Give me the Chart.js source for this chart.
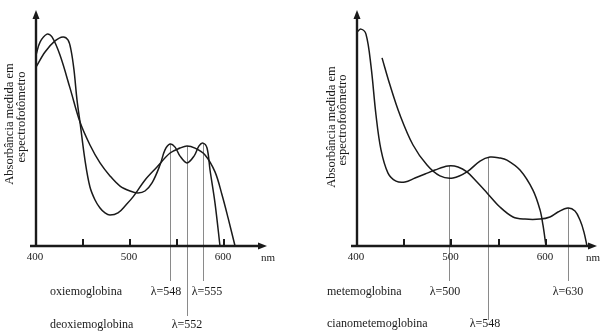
<!DOCTYPE html>
<html>
<head>
<meta charset="utf-8">
<script src="https://cdn.jsdelivr.net/npm/chart.js@4"></script>
<style>
  html, body { margin: 0; padding: 0; background: #fff; }
  body { width: 606px; height: 334px; position: relative; overflow: hidden; }
  .box { position: absolute; top: 0; width: 303px; height: 334px; }
</style>
</head>
<body>
<div class="box" style="left:0"><canvas id="left" width="303" height="334"></canvas></div>
<div class="box" style="left:303px"><canvas id="right" width="303" height="334"></canvas></div>
<script>
// wavelength (nm) / absorbance (arbitrary 0-100)
const oxiNm = [400, 404.3, 411.7, 417, 425.5, 436.2, 446.8, 457.4, 468.1, 478.7, 489.4, 500, 508.5, 515.9, 523.4, 531.9, 537.2, 542.6, 547.9, 553.2, 560.6, 568.1, 573.4, 577.7, 581.9, 585.1, 590.4, 595.7];
const oxiAbs = [80.9, 86.4, 89.8, 88.6, 80.9, 66.9, 52.5, 42.8, 35.2, 29.7, 25.4, 23.3, 22.5, 23.3, 26.7, 34.3, 40.7, 43.2, 41.9, 38.1, 35.2, 38.1, 42.4, 43.6, 41.5, 32.2, 18.2, 0];

const deoxiNm = [400, 409.6, 420.2, 428.7, 434, 437.2, 440.4, 443.6, 446.8, 452.1, 457.4, 462.8, 468.1, 473.4, 478.7, 487.2, 495.7, 503.2, 516, 528.7, 542.6, 553.2, 560.6, 569.1, 579.8, 590.4, 597.9, 604.3, 611.7];
const deoxiAbs = [75.8, 82.2, 86.9, 88.6, 87.3, 83.1, 74.6, 61.9, 52.5, 36.4, 25, 19.5, 16.1, 14, 13.1, 14, 17.4, 20.8, 28, 33.5, 39.4, 41.5, 42.4, 41.5, 38.6, 31.4, 21.6, 11.9, 0];

const metNm = [400, 404.2, 409.5, 414.8, 420.1, 425.4, 432.8, 441.3, 450.8, 461.4, 472, 482.5, 496.3, 506.9, 516.4, 527, 537.6, 551.3, 565.1, 577.8, 593.7, 604.2, 612.7, 623.3, 630.7, 636, 640.2, 643.4];
const metAbs = [90.7, 91.9, 89.8, 76.3, 55.5, 40.7, 30.9, 27.5, 27.1, 28.8, 30.5, 32.2, 33.9, 33.5, 31.4, 27.1, 22.5, 16.5, 12.3, 11.4, 11.4, 12.3, 14.4, 16.1, 14.8, 11, 5.9, 0];

const cianoNm = [426.5, 434.9, 445.5, 459.3, 474.1, 487.8, 501.6, 516.4, 530.2, 540.7, 551.3, 558.7, 572.5, 586.2, 593.7, 596.8, 600];
const cianoAbs = [79.7, 68.2, 55.5, 42.8, 34.3, 29.7, 28.8, 31.4, 36, 37.7, 37.3, 36.4, 32.2, 23.7, 15.3, 8.9, 0];

const tickNm = [450, 500, 550, 600];
const tickLabels = ['400', '500', '600'];

// lambda marker lines: position on the drawn axis, label, curve height where the line starts, caption row
const leftMarkNm = [542.6, 560.6, 577.7];
const leftMarkText = ['λ=548', 'λ=552', 'λ=555'];
const leftMarkTop = [43.2, 42.4, 43.6];
const leftMarkRow = [0, 1, 0];

const rightMarkNm = [497.4, 538.6, 623.3];
const rightMarkText = ['λ=500', 'λ=548', 'λ=630'];
const rightMarkTop = [33.9, 37.7, 16.1];
const rightMarkRow = [0, 1, 0];

const leftNames = ['oxiemoglobina', 'deoxiemoglobina'];
const rightNames = ['metemoglobina', 'cianometemoglobina'];

const yTitle = ['Absorbância medida em', 'espectrofotômetro'];

const INK = '#1a1a1a';
const SERIF = '"Liberation Serif", "DejaVu Serif", serif';

function pts(xs, ys) {
  return xs.map((x, i) => ({ x: x, y: ys[i] }));
}

function curve(xs, ys) {
  return {
    data: pts(xs, ys),
    borderColor: INK,
    borderWidth: 1.5,
    pointRadius: 0,
    tension: 0.35,
    fill: false,
    clip: false
  };
}

const figure = {
  id: 'figure',
  beforeDatasetsDraw(chart, args, o) {
    const ctx = chart.ctx, xs = chart.scales.x, ys = chart.scales.y;
    ctx.save();
    ctx.strokeStyle = '#8a8a8a';
    ctx.lineWidth = 1;
    o.markNm.forEach((nm, i) => {
      const px = Math.round(xs.getPixelForValue(nm)) + 0.5;
      ctx.beginPath();
      ctx.moveTo(px, ys.getPixelForValue(o.markTop[i]));
      ctx.lineTo(px, o.lineEnd[o.markRow[i]]);
      ctx.stroke();
    });
    ctx.restore();
  },
  afterDraw(chart, args, o) {
    const ctx = chart.ctx, a = chart.chartArea, xs = chart.scales.x;
    ctx.save();
    ctx.fillStyle = INK;
    ctx.strokeStyle = INK;
    ctx.lineWidth = 2.4;
    // x axis + arrow
    ctx.beginPath();
    ctx.moveTo(a.left - 6, a.bottom);
    ctx.lineTo(a.right - 6, a.bottom);
    ctx.stroke();
    ctx.beginPath();
    ctx.moveTo(a.right, a.bottom);
    ctx.lineTo(a.right - 9, a.bottom - 3.5);
    ctx.lineTo(a.right - 9, a.bottom + 3.5);
    ctx.closePath();
    ctx.fill();
    // y axis + arrow
    ctx.beginPath();
    ctx.moveTo(a.left, a.bottom + 1);
    ctx.lineTo(a.left, a.top + 6);
    ctx.stroke();
    ctx.beginPath();
    ctx.moveTo(a.left, a.top);
    ctx.lineTo(a.left - 3.5, a.top + 9);
    ctx.lineTo(a.left + 3.5, a.top + 9);
    ctx.closePath();
    ctx.fill();
    // small ticks above the axis
    ctx.lineWidth = 2;
    tickNm.forEach(nm => {
      const px = Math.round(xs.getPixelForValue(nm));
      ctx.beginPath();
      ctx.moveTo(px, a.bottom);
      ctx.lineTo(px, a.bottom - 7);
      ctx.stroke();
    });
    // tick labels and unit
    ctx.font = '11px ' + SERIF;
    ctx.textAlign = 'center';
    ctx.textBaseline = 'middle';
    tickLabels.forEach(t => {
      ctx.fillText(t, xs.getPixelForValue(+t) - 1, a.bottom + 11);
    });
    ctx.fillText('nm', a.right + o.unitDx, a.bottom + 12);
    // lambda labels and names
    ctx.font = '12px ' + SERIF;
    o.markNm.forEach((nm, i) => {
      ctx.fillText(o.markText[i], xs.getPixelForValue(nm) + o.markDx[i], o.rowY[o.markRow[i]]);
    });
    ctx.textAlign = 'left';
    o.names.forEach((n, i) => ctx.fillText(n, o.nameX, o.rowY[i]));
    // rotated y title
    ctx.font = '12.5px ' + SERIF;
    ctx.textAlign = 'center';
    yTitle.forEach((t, i) => {
      ctx.save();
      ctx.translate(a.left + o.titleDx[i], o.titleY[i]);
      ctx.rotate(-Math.PI / 2);
      ctx.fillText(t, 0, 0);
      ctx.restore();
    });
    ctx.restore();
  }
};

function makeChart(id, sets, xMax, pad, fig) {
  return new Chart(document.getElementById(id), {
    type: 'line',
    data: { datasets: sets },
    options: {
      responsive: false,
      animation: false,
      events: [],
      layout: { padding: pad },
      scales: {
        x: { type: 'linear', min: 400, max: xMax, display: false },
        y: { min: 0, max: 100, display: false }
      },
      plugins: {
        legend: { display: false },
        tooltip: { enabled: false },
        figure: fig
      }
    },
    plugins: [figure]
  });
}

makeChart('left', [curve(oxiNm, oxiAbs), curve(deoxiNm, deoxiAbs)], 645.7,
  { left: 36, top: 10, right: 36, bottom: 88 },
  {
    markNm: leftMarkNm, markText: leftMarkText, markTop: leftMarkTop, markRow: leftMarkRow,
    markDx: [-4, 0, 4], lineEnd: [281, 316], rowY: [292, 325],
    names: leftNames, nameX: 50, unitDx: 1, titleDx: [-26, -14], titleY: [124, 117]
  });

makeChart('right', [curve(metNm, metAbs), curve(cianoNm, cianoAbs)], 654,
  { left: 54, top: 10, right: 9, bottom: 88 },
  {
    markNm: rightMarkNm, markText: rightMarkText, markTop: rightMarkTop, markRow: rightMarkRow,
    markDx: [-4, -3, 0], lineEnd: [281, 320], rowY: [292, 324],
    names: rightNames, nameX: 24, unitDx: -4, titleDx: [-25, -14], titleY: [127, 120]
  });
</script>
</body>
</html>
